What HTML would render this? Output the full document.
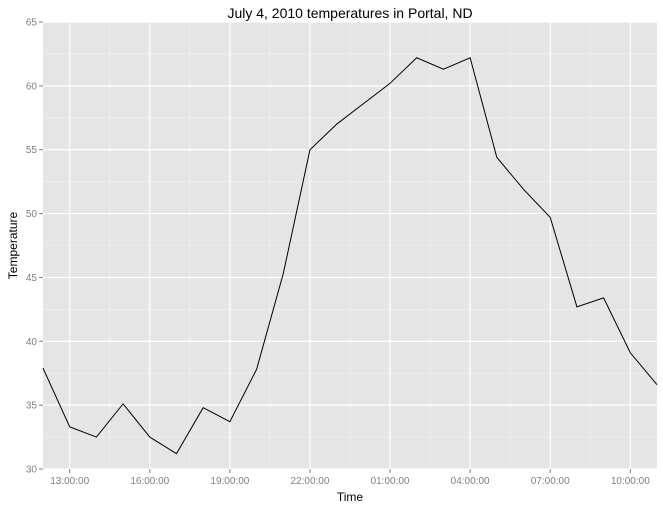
<!DOCTYPE html>
<html><head><meta charset="utf-8"><style>
body{margin:0;background:#fff;font-family:"Liberation Sans","DejaVu Sans",sans-serif}
</style></head><body>
<svg id="chart" width="663" height="510" xmlns="http://www.w3.org/2000/svg"></svg>
<script>
const hours=[12,13,14,15,16,17,18,19,20,21,22,23,24,25,26,27,28,29,30,31,32,33,34,35];
const temps=[37.9,33.3,32.5,35.1,32.5,31.2,34.8,33.7,37.8,45.3,55.0,57.0,58.6,60.2,62.2,61.3,62.2,54.4,51.9,49.7,42.7,43.4,39.1,36.6];
const yTicks=[30,35,40,45,50,55,60,65];
const xTicks=[13,16,19,22,25,28,31,34];
const xTickLabels=["13:00:00","16:00:00","19:00:00","22:00:00","01:00:00","04:00:00","07:00:00","10:00:00"];
const L=43,R=657,T=22,B=469;
const x=h=>L+(h-12)/(35-12)*(R-L);
const y=v=>B-(v-30)/(65-30)*(B-T);
const svg=document.getElementById('chart');
const NS='http://www.w3.org/2000/svg';
function mk(tag,attrs,parent){const e=document.createElementNS(NS,tag);for(const k in attrs)e.setAttribute(k,attrs[k]);(parent||svg).appendChild(e);return e;}
const bg=mk('rect',{x:L,y:T,width:R-L,height:B-T,fill:'#e5e5e5'});


// minor grid
for(let i=0;i<yTicks.length-1;i++){const v=(yTicks[i]+yTicks[i+1])/2;const g=mk('line',{x1:L,x2:R,y1:y(v),y2:y(v),stroke:'#f2f2f2','stroke-width':0.6});

}
const minorX=[11.5].concat(xTicks.map(t=>t+1.5));
minorX.forEach(v=>{if(x(v)<L||x(v)>R)return;const g=mk('line',{x1:x(v),x2:x(v),y1:T,y2:B,stroke:'#f2f2f2','stroke-width':0.6});

});
yTicks.forEach(v=>{const g=mk('line',{x1:L,x2:R,y1:y(v),y2:y(v),stroke:'#fff','stroke-width':1.2});


const tk=mk('line',{x1:L-4,x2:L,y1:y(v),y2:y(v),stroke:'#7f7f7f'});


const t=mk('text',{x:L-6,y:y(v)+3.5,'text-anchor':'end','font-size':10,fill:'#7f7f7f'});t.textContent=v;

});
xTicks.forEach((v,i)=>{const g=mk('line',{x1:x(v),x2:x(v),y1:T,y2:B,stroke:'#fff','stroke-width':1.2});


const tk=mk('line',{x1:x(v),x2:x(v),y1:B,y2:B+4,stroke:'#7f7f7f'});


const t=mk('text',{x:x(v),y:B+15,'text-anchor':'middle','font-size':10,fill:'#7f7f7f'});t.textContent=xTickLabels[i];

});
const line=mk('polyline',{points:hours.map((h,i)=>x(h)+','+y(temps[i])).join(' '),fill:'none',stroke:'#000','stroke-width':1});


const title=mk('text',{x:(L+R)/2,y:18,'text-anchor':'middle','font-size':14,fill:'#000'});title.textContent='July 4, 2010 temperatures in Portal, ND';


const xt=mk('text',{x:(L+R)/2,y:501,'text-anchor':'middle','font-size':12,fill:'#000'});xt.textContent='Time';


const yt=mk('text',{x:17,y:(T+B)/2,'text-anchor':'middle','font-size':12,fill:'#000',transform:'rotate(-90 17 '+(T+B)/2+')'});yt.textContent='Temperature';


</script>
</body></html>
